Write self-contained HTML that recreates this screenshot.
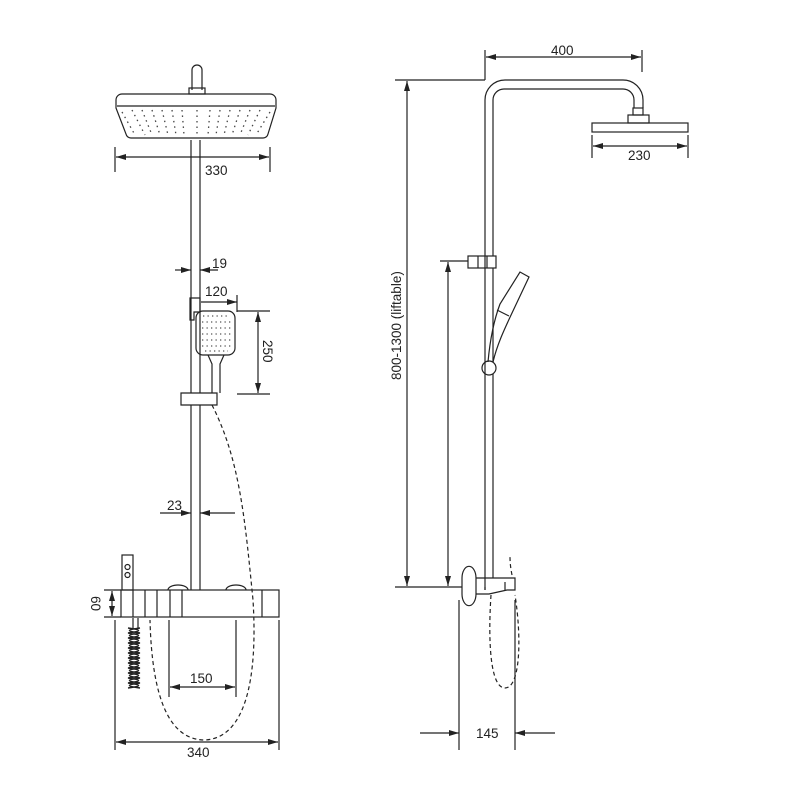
<!DOCTYPE html>
<html><head><style>body{margin:0;background:#fff}svg{display:block}text{font-family:"Liberation Sans",sans-serif;font-size:13.5px;fill:#222}</style></head><body>
<svg width="800" height="800" viewBox="0 0 800 800" xmlns="http://www.w3.org/2000/svg">
<defs>
<marker id="a" markerWidth="10" markerHeight="6" refX="10" refY="3" orient="auto-start-reverse" markerUnits="userSpaceOnUse"><path d="M0,0L10,3L0,6z" fill="#222"/></marker>
</defs>
<g fill="none" stroke="#222" stroke-width="1.2">
<path d="M192,90V70a5,5 0 0 1 10,0V90"/>
<rect x="189" y="88" width="16" height="6"/>
<path d="M122,94H270a6,6 0 0 1 6,6V108L268,134a5,5 0 0 1 -5,4H131a5,5 0 0 1 -5,-4L116,108V100a6,6 0 0 1 6,-6Z"/>
<path d="M117,106H275"/>
<g stroke-dasharray="1.5 4" stroke-width="1.3" stroke="#444">
<path d="M122,112L135,135M132,110L145,135M142,110L152,135M152,110L160,135M162,110L168,135M172,110L176,135M182,110L184,135M197,110V135M210,110L208,135M220,110L216,135M230,110L224,135M240,110L232,135M250,110L240,135M260,110L248,135M270,112L256,135"/>
</g>
<path d="M191,140V393M200,140V393M191,405V590M200,405V590"/>
<path d="M115,147V172M270,147V172"/>
<path d="M116,157H269" marker-start="url(#a)" marker-end="url(#a)"/>
<path d="M175,270H191" marker-end="url(#a)"/><path d="M218,270H200" marker-end="url(#a)"/>
<path d="M201,302H237" marker-end="url(#a)"/><path d="M237,295V312"/>
<path d="M190,298H200V312H194V320H190Z"/>
<rect x="196" y="311" width="39" height="44" rx="7"/>
<path d="M208,355L212,364V393M224,355L220,364V393"/>
<path d="M237,311H270M237,394H270"/>
<path d="M258,312V393" marker-start="url(#a)" marker-end="url(#a)"/>
<path d="M181,393H217V405H181Z"/>
<g stroke-dasharray="1.3 3.2" stroke="#555">
<path d="M203,316H230M202,322H231M202,328H231M202,334H231M202,340H231M202,346H231M205,351H228"/>
</g>
<path d="M160,513H191" marker-end="url(#a)"/><path d="M235,513H200" marker-end="url(#a)"/>
<rect x="122" y="555" width="11" height="35"/>
<circle cx="127.5" cy="567" r="2.5"/><circle cx="127.5" cy="575" r="2.5"/>
<rect x="121" y="590" width="158" height="27"/>
<path d="M133,590V617M145,590V617M157,590V617M170,590V617M182,590V617M262,590V617"/>
<path d="M168,590a10,5 0 0 1 20,0M226,590a10,5 0 0 1 20,0"/>
<path d="M112,591V616" marker-start="url(#a)" marker-end="url(#a)"/>
<path d="M104,590H121M104,617H121"/>
<path d="M115,620V750M279,620V750"/>
<path d="M116,742H278" marker-start="url(#a)" marker-end="url(#a)"/>
<path d="M169,620V697M236,620V697"/>
<path d="M170,687H235" marker-start="url(#a)" marker-end="url(#a)"/>
<path d="M133,618V628M138,618V628" />
<path d="M128,628c14,2 14,3 0,5c14,2 14,3 0,5c14,2 14,3 0,5c14,2 14,3 0,5c14,2 14,3 0,5c14,2 14,3 0,5c14,2 14,3 0,5c14,2 14,3 0,5c14,2 14,3 0,5c14,2 14,3 0,5c14,2 14,3 0,5c14,2 14,3 0,5" stroke-width="1.5"/>
<path d="M140,628c-14,2 -14,3 0,5c-14,2 -14,3 0,5c-14,2 -14,3 0,5c-14,2 -14,3 0,5c-14,2 -14,3 0,5c-14,2 -14,3 0,5c-14,2 -14,3 0,5c-14,2 -14,3 0,5c-14,2 -14,3 0,5c-14,2 -14,3 0,5c-14,2 -14,3 0,5c-14,2 -14,3 0,5" stroke-width="1.5"/>
<path d="M212,405C240,460 245,520 253,600C258,680 245,738 205,740C170,740 152,700 150,620" stroke-dasharray="4 3"/>
<path d="M485,590V100a20,20 0 0 1 20,-20H623a20,20 0 0 1 20,20V108M493,256V100a11,11 0 0 1 11,-11H623a11,11 0 0 1 11,11V108"/>
<path d="M493,268V362M493,374V578M485,587V590"/>
<rect x="633" y="108" width="10" height="7"/>
<rect x="628" y="115" width="21" height="8"/>
<rect x="592" y="123" width="96" height="9"/>
<path d="M485,50V80M642,50V72"/>
<path d="M486,57H641" marker-start="url(#a)" marker-end="url(#a)"/>
<path d="M592,135V158M688,135V158"/>
<path d="M593,146H687" marker-start="url(#a)" marker-end="url(#a)"/>
<path d="M395,80H485M395,587H462"/>
<path d="M407,81V586" marker-start="url(#a)" marker-end="url(#a)"/>
<path d="M440,261H468"/>
<path d="M448,262V586" marker-start="url(#a)" marker-end="url(#a)"/>
<rect x="468" y="256" width="28" height="12"/><path d="M478,256V268M487,256V268"/>
<path d="M488,362C490,340 494,320 500,304L520,272L529,277L512,313C504,330 497,345 493,362"/>
<path d="M497,310L509,316"/>
<circle cx="489" cy="368" r="7"/>
<path d="M462,578a6,10 0 0 1 14,0V594a6,10 0 0 1 -14,0Z"/>
<path d="M476,578H515V590H507L489,594H476"/>
<path d="M505,582V590"/>
<path d="M459,600V750M515,600V750"/>
<path d="M420,733H459" marker-end="url(#a)"/><path d="M555,733H515" marker-end="url(#a)"/>
<path d="M491,595C488,640 490,688 505,688C520,688 522,640 515,595" stroke-dasharray="4 3"/>
<path d="M512,575C510,565 510,560 510,555" stroke-dasharray="4 3"/>
</g>
<text x="205" y="175">330</text>
<text x="212" y="268">19</text>
<text x="205" y="296">120</text>
<text transform="translate(263,340) rotate(90)">250</text>
<text x="167" y="510">23</text>
<text transform="translate(91,596) rotate(90)">60</text>
<text x="190" y="683">150</text>
<text x="187" y="757">340</text>
<text x="551" y="55">400</text>
<text x="628" y="160">230</text>
<text transform="translate(401,380) rotate(-90)">800-1300  (liftable)</text>
<text x="476" y="738">145</text>
</svg>
</body></html>
